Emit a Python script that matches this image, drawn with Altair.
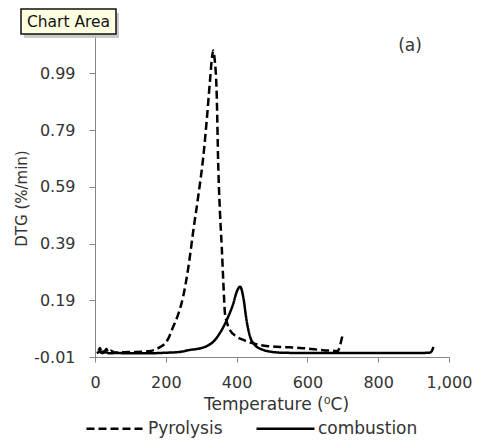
import altair as alt
import pandas as pd

# ---- data ----
pyro_T = [10, 14, 18, 22, 26, 32, 38, 45, 55, 80, 120, 150, 180, 205, 221, 235, 249, 263, 278, 292, 306, 316, 325, 330, 334, 338, 344, 348, 353, 358, 363, 367, 372, 381, 400, 419, 447, 466, 490, 513, 550, 579, 620, 650, 673, 685, 690, 696, 701]
pyro_v = [0.012, 0.022, 0.01, 0.02, 0.008, 0.018, 0.006, 0.012, 0.006, 0.007, 0.008, 0.010, 0.022, 0.05, 0.097, 0.14, 0.203, 0.30, 0.438, 0.56, 0.697, 0.83, 0.967, 1.04, 1.07, 1.04, 0.908, 0.673, 0.50, 0.38, 0.24, 0.145, 0.115, 0.085, 0.062, 0.05, 0.038, 0.032, 0.028, 0.026, 0.024, 0.022, 0.017, 0.013, 0.012, 0.011, 0.02, 0.05, 0.075]

comb_T = [5, 14, 20, 30, 40, 60, 100, 146, 200, 240, 268, 295, 315, 335, 353, 372, 391, 401, 410, 419, 428, 438, 452, 475, 500, 532, 600, 700, 800, 900, 945, 951, 956]
comb_v = [0.004, 0.008, 0.004, 0.007, 0.003, 0.004, 0.003, 0.003, 0.005, 0.008, 0.015, 0.02, 0.028, 0.045, 0.075, 0.12, 0.18, 0.222, 0.238, 0.20, 0.12, 0.062, 0.032, 0.015, 0.008, 0.005, 0.004, 0.004, 0.004, 0.004, 0.005, 0.01, 0.026]

series_names = ["Pyrolysis", "combustion"]
y_ticks = [-0.01, 0.19, 0.39, 0.59, 0.79, 0.99]
x_ticks = [0, 200, 400, 600, 800, 1000]

rows = []
for i, (t, v) in enumerate(zip(pyro_T, pyro_v)):
    rows.append({"T": t, "v": v, "series": series_names[0], "o": i})
for i, (t, v) in enumerate(zip(comb_T, comb_v)):
    rows.append({"T": t, "v": v, "series": series_names[1], "o": i})
df = pd.DataFrame(rows)

FONT = "DejaVu Sans"
TXT = "#333333"
AX = "#868686"

lines = alt.Chart(df).mark_line(color="black", strokeWidth=2.5, interpolate="monotone").encode(
    x=alt.X("T:Q",
            scale=alt.Scale(domain=[0, 1000], nice=False, zero=False),
            axis=alt.Axis(values=x_ticks, format=",.0f", title="Temperature (\u2070C)",
                          grid=False, tickSize=5, domainColor=AX, tickColor=AX,
                          labelFlush=False, labelOverlap=False,
                          labelFontSize=16, labelColor=TXT, labelFont=FONT, labelPadding=12,
                          titleFontSize=17, titleFont=FONT, titleColor=TXT, titleFontWeight="normal",
                          titleX=181, titleY=47, titleBaseline="middle", titleAlign="center")),
    y=alt.Y("v:Q",
            scale=alt.Scale(domain=[-0.01, 1.125], nice=False, zero=False),
            axis=alt.Axis(values=y_ticks, title="DTG (%/min)",
                          labelExpr="datum.value < 0 ? '-' + format(-datum.value, '.2f') : format(datum.value, '.2f')",
                          grid=False, tickSize=6, domainColor=AX, tickColor=AX,
                          labelFlush=False,
                          labelFontSize=16, labelColor=TXT, labelFont=FONT, labelPadding=14,
                          titleFontSize=15, titleFont=FONT, titleColor=TXT, titleFontWeight="normal",
                          titleX=-74, titleY=163, titleBaseline="middle", titleAlign="center", titleAngle=-90)),
    strokeDash=alt.StrokeDash("series:N",
                              scale=alt.Scale(domain=series_names, range=[[8, 4], [1, 0]]),
                              legend=alt.Legend(title=None, orient="none", legendX=-10, legendY=363,
                                                direction="horizontal", symbolType="stroke",
                                                symbolSize=3364, symbolStrokeWidth=2.5,
                                                symbolStrokeColor="black", labelFontSize=17,
                                                labelFont=FONT, labelColor=TXT, labelOffset=2,
                                                columnPadding=28, padding=0)),
    order="o:Q",
)

one = pd.DataFrame({"k": [0]})
shadow = alt.Chart(one).mark_rect(fill="#bdbdbd", opacity=0.8).encode(
    x=alt.value(-71), x2=alt.value(24), y=alt.value(-22), y2=alt.value(3))
box = alt.Chart(one).mark_rect(fill="#FFFFE1", stroke="#111111", strokeWidth=1.5).encode(
    x=alt.value(-74), x2=alt.value(21), y=alt.value(-26), y2=alt.value(-1))
box_text = alt.Chart(one).mark_text(text="Chart Area", font=FONT, fontSize=15.5, color="#111111",
                                    align="center", baseline="middle").encode(
    x=alt.value(-26.5), y=alt.value(-13))
label_a = alt.Chart(one).mark_text(text="(a)", font=FONT, fontSize=17, color=TXT,
                                   align="center", baseline="middle").encode(
    x=alt.value(315), y=alt.value(11))

chart = alt.layer(lines, label_a, shadow, box, box_text).properties(
    width=354, height=322,
    padding={"left": 95, "top": 35, "right": 31, "bottom": 86},
    autosize=alt.AutoSizeParams(type="none"),
    background="white",
).configure_view(stroke=None)

chart.save("out.html", embed_options={"renderer": "svg", "actions": False})
